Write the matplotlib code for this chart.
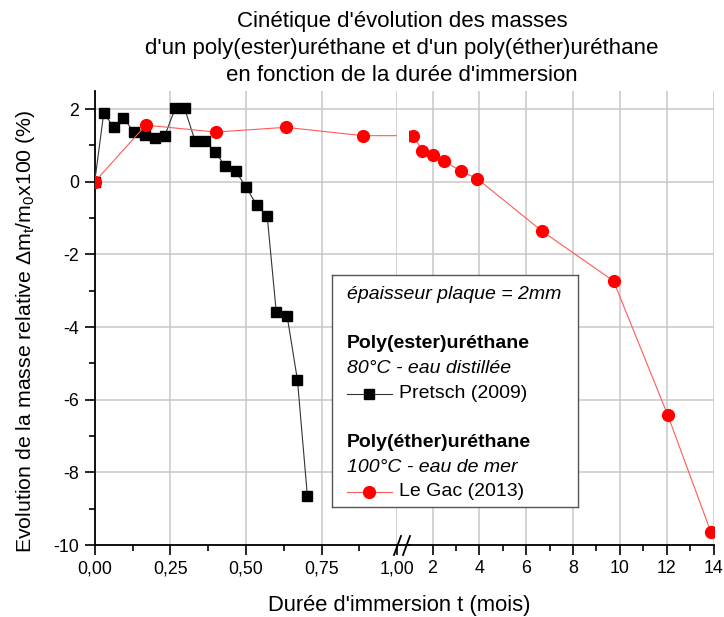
import matplotlib
matplotlib.use('Agg')
import matplotlib.pyplot as plt
from matplotlib.lines import Line2D
from matplotlib.ticker import MultipleLocator, FixedLocator

plt.rcParams['font.family'] = ['Liberation Sans', 'DejaVu Sans']
plt.rcParams['axes.unicode_minus'] = False
plt.rcParams['mathtext.default'] = 'regular'

# Pretsch (2009) - poly(ester)urethane, 80 C, eau distillee
pretsch_t = [0, 0.030, 0.063, 0.095, 0.13, 0.166, 0.20, 0.231, 0.266, 0.297, 0.332,
             0.365, 0.398, 0.432, 0.466, 0.50, 0.535, 0.57, 0.60, 0.636, 0.67, 0.703]
pretsch_dm = [0, 1.90, 1.50, 1.75, 1.37, 1.30, 1.21, 1.26, 2.02, 2.02, 1.12,
              1.12, 0.82, 0.43, 0.29, -0.14, -0.64, -0.94, -3.59, -3.70, -5.46, -8.66]

# Le Gac (2013) - poly(ether)urethane, 100 C, eau de mer
legac_t = [0, 0.169, 0.40, 0.632, 0.886, 1.18, 1.57, 2.01, 2.51, 3.21, 3.90, 6.68, 9.73, 12.05, 13.88]
legac_dm = [0, 1.56, 1.37, 1.50, 1.27, 1.27, 0.85, 0.75, 0.57, 0.29, 0.09, -1.36, -2.73, -6.43, -9.63]

left_ticks = [0, 0.25, 0.5, 0.75, 1.0]
right_ticks = [2, 4, 6, 8, 10, 12, 14]
y_ticks = [-10, -8, -6, -4, -2, 0, 2]

title_lines = ["Cinétique d'évolution des masses",
               "d'un poly(ester)uréthane et d'un poly(éther)uréthane",
               "en fonction de la durée d'immersion"]

W, H = 724, 617
GRID = '#c8c8c8'
RED_LINE = '#ff5a5a'
BLACK_LINE = '#333333'


def box(x0, x1, ytop, ybot):
    # pixel box -> figure fraction rect
    return [x0 / W, 1 - ybot / H, (x1 - x0) / W, (ybot - ytop) / H]


def fx(px):
    return px / W


def fy(py):
    return 1 - py / H


fig = plt.figure(figsize=(W / 100, H / 100), dpi=100)

# background axes only for the horizontal grid running through the break
bg = fig.add_axes(box(94.7, 713.5, 91, 545))
bg.set_ylim(-10, 2.5)
bg.set_xlim(0, 1)
bg.set_yticks(y_ticks)
bg.set_xticks([])
bg.tick_params(left=False, labelleft=False)
bg.grid(axis='y', color=GRID, lw=1.1)
for s in bg.spines.values():
    s.set_visible(False)

ax1 = fig.add_axes(box(94.7, 397.3, 91, 545))
ax2 = fig.add_axes(box(409.1, 713.5, 91, 545))

for ax in (ax1, ax2):
    ax.set_facecolor('none')
    ax.set_ylim(-10, 2.5)
    ax.spines['top'].set_visible(False)
    ax.spines['right'].set_visible(False)
    ax.spines['bottom'].set_linewidth(1.3)
    ax.spines['left'].set_linewidth(1.3)
    ax.grid(axis='x', color=GRID, lw=1.1)
    ax.set_axisbelow(True)
    ax.tick_params(which='major', direction='out', length=7, width=1.2, labelsize=12.8, pad=4)
    ax.tick_params(which='minor', direction='out', length=4, width=1.2)
    ax.plot(pretsch_t, pretsch_dm, '-s', color=BLACK_LINE, lw=0.8, ms=7, mfc='black', mec='black', zorder=3)
    ax.plot(legac_t, legac_dm, '-o', color=RED_LINE, lw=0.8, ms=8.5, mfc='red', mec='red', zorder=4)

ax1.set_xlim(0, 1.0)
ax1.xaxis.set_major_locator(FixedLocator(left_ticks))
ax1.set_xticklabels(['{:.2f}'.format(v).replace('.', ',') for v in left_ticks])
ax1.xaxis.set_minor_locator(FixedLocator([0.125, 0.375, 0.625, 0.875]))
ax1.set_yticks(y_ticks)
ax1.yaxis.set_minor_locator(MultipleLocator(1))

ax2.set_xlim(1, 14)
ax2.xaxis.set_major_locator(FixedLocator(right_ticks))
ax2.set_xticklabels([str(v) for v in right_ticks])
ax2.xaxis.set_minor_locator(FixedLocator([3, 5, 7, 9, 11, 13]))
ax2.spines['left'].set_visible(False)
ax2.tick_params(axis='y', which='both', left=False, labelleft=False)

# axis line through the break and the // marks
fig.add_artist(Line2D([fx(397), fx(409.5)], [fy(545), fy(545)], color='black', lw=1.3))
fig.add_artist(Line2D([fx(394), fx(401)], [fy(555), fy(536)], color='black', lw=1.3))
fig.add_artist(Line2D([fx(403), fx(410)], [fy(555), fy(536)], color='black', lw=1.3))

# title and axis labels
for i, line in enumerate(title_lines):
    fig.text(fx(402), fy(27 + 27 * i), line, ha='center', va='baseline', fontsize=16)
fig.text(fx(399), fy(611), "Durée d'immersion t (mois)", ha='center', va='baseline', fontsize=15.8)
fig.text(fx(26), fy(331), r'Evolution de la masse relative $\Delta$m$_t$/m$_0$x100 (%)',
         rotation=90, ha='center', va='center', fontsize=15.3)

# legend box
leg = fig.add_axes(box(331.7, 578, 275, 506.7))
leg.set_xlim(0, 246.3)
leg.set_ylim(231.7, 0)
leg.set_xticks([])
leg.set_yticks([])
leg.set_facecolor('white')
for s in leg.spines.values():
    s.set_color('#555555')
    s.set_linewidth(1)
fs = 14
leg.text(15, 20, 'épaisseur plaque = 2mm', style='italic', va='center', fontsize=fs)
leg.text(15, 69, 'Poly(ester)uréthane', weight='bold', va='center', fontsize=fs)
leg.text(15, 94, '80°C - eau distillée', style='italic', va='center', fontsize=fs)
leg.plot([15, 60], [119, 119], color=BLACK_LINE, lw=0.8)
leg.plot([37.5], [119], 's', color='black', ms=7)
leg.text(67, 119, 'Pretsch (2009)', va='center', fontsize=fs)
leg.text(15, 168, 'Poly(éther)uréthane', weight='bold', va='center', fontsize=fs)
leg.text(15, 193, '100°C - eau de mer', style='italic', va='center', fontsize=fs)
leg.plot([15, 60], [217, 217], color=RED_LINE, lw=0.8)
leg.plot([37.5], [217], 'o', color='red', ms=8.5)
leg.text(67, 217, 'Le Gac (2013)', va='center', fontsize=fs)

fig.savefig('out.png', dpi=100)
